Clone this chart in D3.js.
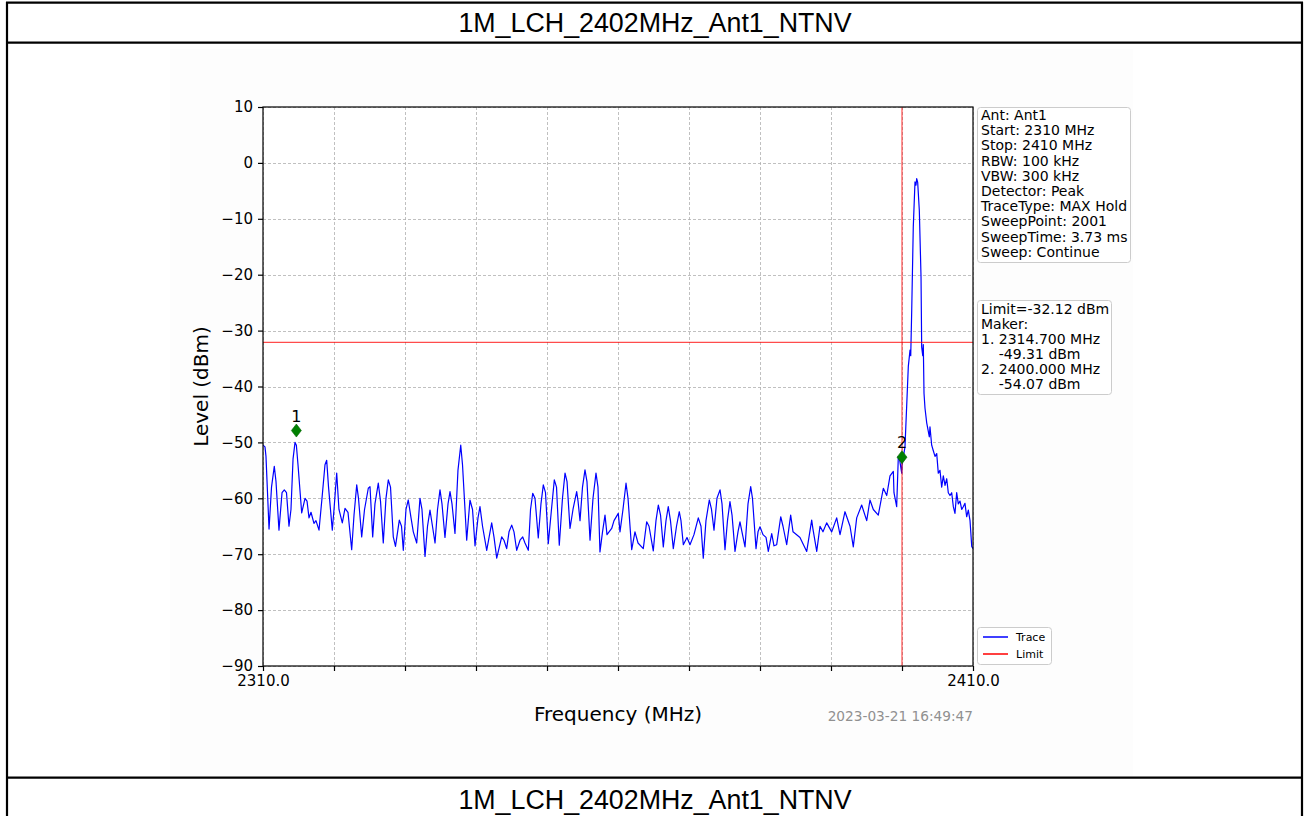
<!DOCTYPE html>
<html>
<head>
<meta charset="utf-8">
<script src="https://cdn.jsdelivr.net/npm/d3@7"></script>
<style>
  html, body { margin: 0; padding: 0; background: #ffffff; }
  svg { display: block; }
  text { white-space: pre; }
</style>
</head>
<body>
<svg id="chart" width="1308" height="816"></svg>
<script>
// ---------------- DATA ----------------
const chartTitle = "1M_LCH_2402MHz_Ant1_NTNV";
const xLabel = "Frequency (MHz)";
const yLabel = "Level (dBm)";
const timestamp = "2023-03-21 16:49:47";

const xTicks = [2310, 2320, 2330, 2340, 2350, 2360, 2370, 2380, 2390, 2400, 2410];
const xTickLabels = ["2310.0", "", "", "", "", "", "", "", "", "", "2410.0"];
const yTicks = [10, 0, -10, -20, -30, -40, -50, -60, -70, -80, -90];

const traceFreq = [
  2310.00, 2310.28, 2310.42, 2310.85, 2311.20, 2311.59, 2311.83, 2312.25, 2312.68, 2313.00,
  2313.31, 2313.66, 2313.94, 2314.23, 2314.51, 2314.70, 2314.93, 2315.45, 2315.92, 2316.20,
  2316.48, 2316.76, 2317.18, 2317.46, 2317.89, 2318.31, 2318.73, 2318.97, 2319.23, 2319.76,
  2320.00, 2320.38, 2320.70, 2321.17, 2321.55, 2321.97, 2322.49, 2322.82, 2323.20, 2323.45,
  2323.90, 2324.30, 2324.83, 2325.07, 2325.45, 2325.77, 2326.24, 2326.55, 2326.94, 2327.32,
  2327.65, 2327.96, 2328.35, 2328.66, 2329.20, 2329.51, 2329.76, 2330.14, 2330.46, 2330.85,
  2331.17, 2331.65, 2332.11, 2332.39, 2332.82, 2333.17, 2333.52, 2333.87, 2334.23, 2334.58,
  2334.93, 2335.21, 2335.63, 2336.06, 2336.34, 2336.62, 2337.04, 2337.46, 2337.85, 2338.10,
  2338.69, 2339.15, 2339.51, 2339.86, 2340.28, 2340.56, 2340.92, 2341.51, 2342.21, 2342.54,
  2342.92, 2343.62, 2343.94, 2344.32, 2344.65, 2345.03, 2345.35, 2345.73, 2346.20, 2346.58,
  2346.90, 2347.37, 2347.68, 2347.99, 2348.31, 2348.77, 2349.15, 2349.48, 2349.79, 2350.18,
  2350.63, 2351.03, 2351.34, 2351.73, 2352.18, 2352.54, 2352.82, 2353.24, 2353.66, 2354.18,
  2354.37, 2354.65, 2355.00, 2355.35, 2355.63, 2356.06, 2356.48, 2356.90, 2357.18, 2357.46,
  2357.82, 2358.17, 2358.45, 2359.11, 2359.44, 2360.04, 2360.28, 2360.70, 2361.13, 2361.41,
  2361.93, 2362.39, 2362.82, 2363.56, 2364.04, 2364.37, 2364.97, 2365.35, 2365.68, 2365.99,
  2366.38, 2366.76, 2367.08, 2367.39, 2367.79, 2368.24, 2368.63, 2368.87, 2369.20, 2369.72,
  2370.14, 2370.70, 2371.31, 2371.69, 2372.01, 2372.39, 2372.86, 2373.17, 2373.52, 2373.94,
  2374.37, 2374.65, 2375.07, 2375.42, 2375.77, 2376.06, 2376.48, 2376.90, 2377.18, 2377.46,
  2377.89, 2378.31, 2378.69, 2378.94, 2379.44, 2379.72, 2380.00, 2380.42, 2380.85, 2381.17,
  2381.65, 2381.97, 2382.35, 2382.92, 2383.24, 2383.76, 2384.32, 2384.65, 2385.63, 2386.58,
  2387.28, 2387.46, 2387.99, 2388.45, 2388.87, 2389.39, 2390.10, 2390.80, 2391.27, 2391.97,
  2392.68, 2393.14, 2393.62, 2394.32, 2395.03, 2395.49, 2395.96, 2396.66, 2397.37, 2397.85,
  2398.31, 2398.78, 2398.87, 2399.25, 2399.48, 2399.65, 2399.96, 2400.00, 2400.42, 2400.89,
  2401.13, 2401.23, 2401.37, 2401.59, 2401.83, 2401.97, 2402.07, 2402.21, 2402.44, 2402.68,
  2402.77, 2402.92, 2403.00, 2403.10, 2403.24, 2403.48, 2403.85, 2403.94, 2404.18, 2404.41,
  2404.65, 2404.89, 2405.11, 2405.35, 2405.59, 2405.82, 2406.06, 2406.30, 2406.52, 2406.76,
  2407.00, 2407.23, 2407.46, 2407.70, 2407.93, 2408.17, 2408.41, 2408.63, 2408.87, 2409.11,
  2409.34, 2409.58, 2409.82, 2410.00
];
const traceLevel = [
  -50.5, -50.8, -52.5, -65.5, -58.0, -54.3, -57.0, -65.7, -59.0, -58.5,
  -59.0, -65.0, -62.0, -53.0, -50.0, -50.5, -54.0, -62.6, -60.0, -60.5,
  -63.5, -62.5, -64.5, -64.0, -65.7, -60.0, -54.0, -53.2, -58.0, -65.7,
  -62.0, -55.5, -62.0, -64.4, -61.8, -62.5, -69.2, -63.0, -57.6, -60.0,
  -66.9, -62.0, -58.2, -57.9, -66.9, -61.0, -57.3, -60.5, -68.0, -60.0,
  -56.7, -58.0, -66.9, -68.6, -63.9, -65.0, -69.3, -62.0, -60.3, -63.5,
  -66.0, -68.0, -60.0, -62.0, -70.4, -65.0, -62.1, -65.0, -68.0, -62.0,
  -58.5, -61.0, -67.0, -61.0, -58.8, -61.0, -66.3, -55.0, -50.5, -54.0,
  -67.5, -60.3, -62.0, -68.5, -63.5, -61.5, -65.0, -69.3, -64.4, -67.0,
  -70.7, -66.9, -67.5, -69.0, -66.0, -64.8, -66.0, -69.3, -67.5, -66.9,
  -68.0, -69.3, -62.0, -59.1, -60.0, -67.1, -61.0, -57.6, -59.0, -68.1,
  -62.0, -56.7, -58.0, -68.4, -60.0, -55.5, -57.0, -65.4, -62.0, -58.8,
  -60.5, -64.0, -58.0, -54.9, -57.0, -67.5, -60.0, -55.5, -58.0, -69.6,
  -66.0, -63.0, -66.5, -65.4, -64.0, -62.7, -66.0, -62.0, -57.3, -60.0,
  -69.2, -66.0, -68.0, -69.0, -64.2, -65.0, -69.4, -64.0, -61.2, -63.0,
  -68.7, -64.0, -61.5, -64.0, -69.0, -65.0, -62.4, -64.0, -68.3, -67.0,
  -68.3, -66.5, -63.5, -65.0, -70.7, -64.0, -60.3, -62.0, -65.7, -60.0,
  -58.5, -61.0, -69.2, -64.0, -60.6, -63.0, -69.5, -66.0, -64.2, -66.0,
  -68.7, -61.0, -57.9, -60.0, -69.0, -66.0, -65.1, -66.5, -67.0, -69.5,
  -66.3, -68.5, -68.3, -63.3, -65.0, -68.3, -63.0, -66.0, -67.0, -69.5,
  -63.9, -65.5, -69.5, -65.0, -66.0, -64.4, -66.0, -63.5, -66.5, -62.4,
  -65.0, -68.7, -63.5, -61.2, -64.0, -60.3, -62.0, -63.0, -58.2, -59.5,
  -56.0, -55.2, -59.0, -61.5, -52.6, -53.0, -55.5, -54.07, -50.8, -36.4,
  -33.5, -34.5, -26.3, -11.4, -3.4, -4.0, -2.8, -3.5, -8.5, -20.4,
  -32.9, -34.5, -32.5, -41.2, -43.9, -46.5, -49.0, -47.2, -50.5, -51.5,
  -52.5, -52.0, -55.5, -55.0, -58.0, -56.0, -57.7, -56.5, -59.0, -59.5,
  -59.0, -61.5, -62.7, -59.0, -61.0, -60.5, -62.0, -61.5, -60.9, -63.3,
  -62.1, -64.0, -68.6, -69.0
];

const limitLevel = -32.12;
const markerFreq = [2314.7, 2400.0];
const markerLevel = [-49.31, -54.07];
const markerNames = ["1", "2"];

const infoLines = [
  "Ant: Ant1", "Start: 2310 MHz", "Stop: 2410 MHz", "RBW: 100 kHz", "VBW: 300 kHz",
  "Detector: Peak", "TraceType: MAX Hold", "SweepPoint: 2001", "SweepTime: 3.73 ms", "Sweep: Continue"
];
const limitLines = [
  "Limit=-32.12 dBm", "Maker:", "1. 2314.700 MHz", "    -49.31 dBm", "2. 2400.000 MHz", "    -54.07 dBm"
];
const legendNames = ["Trace", "Limit"];
const legendColors = ["#0000ff", "#ff0000"];

// ---------------- DRAW ----------------
const svg = d3.select("#chart");
const W = 1308, H = 816;
const mpl = "DejaVu Sans, Liberation Sans, sans-serif";
const arial = "Liberation Sans, Arial, sans-serif";

// outer table frame
const frame = svg.append("g").attr("stroke", "#000").attr("stroke-width", 2.2);
frame.append("line").attr("x1", 6).attr("x2", 1303).attr("y1", 2.7).attr("y2", 2.7);
frame.append("line").attr("x1", 7).attr("x2", 7).attr("y1", 2).attr("y2", H);
frame.append("line").attr("x1", 1302).attr("x2", 1302).attr("y1", 2).attr("y2", H);
frame.append("line").attr("x1", 6).attr("x2", 1303).attr("y1", 42.7).attr("y2", 42.7);
frame.append("line").attr("x1", 6).attr("x2", 1303).attr("y1", 777.7).attr("y2", 777.7);

svg.append("text").attr("x", 655).attr("y", 32).attr("text-anchor", "middle")
  .attr("font-family", arial).attr("font-size", 26.8).attr("fill", "#000").text(chartTitle);
svg.append("text").attr("x", 655).attr("y", 809).attr("text-anchor", "middle")
  .attr("font-family", arial).attr("font-size", 26.8).attr("fill", "#000").text(chartTitle);

// figure background (image area)
svg.append("rect").attr("x", 170).attr("y", 49).attr("width", 963).attr("height", 727).attr("fill", "#fdfdfd");

const m = { left: 263, right: 973, top: 107, bottom: 666 };
const x = d3.scaleLinear().domain([2310, 2410]).range([m.left, m.right]);
const y = d3.scaleLinear().domain([-90, 10]).range([m.bottom, m.top]);

// axes background
svg.append("rect").attr("x", m.left).attr("y", m.top)
  .attr("width", m.right - m.left).attr("height", m.bottom - m.top).attr("fill", "#ffffff");

// grid
const grid = svg.append("g").attr("stroke", "#b0b0b0").attr("stroke-width", 0.8)
  .attr("stroke-dasharray", "3,2");
grid.selectAll("line.v").data(xTicks).join("line")
  .attr("x1", d => Math.round(x(d)) + 0.5).attr("x2", d => Math.round(x(d)) + 0.5)
  .attr("y1", m.top).attr("y2", m.bottom);
grid.selectAll("line.h").data(yTicks).join("line")
  .attr("y1", d => Math.round(y(d)) + 0.5).attr("y2", d => Math.round(y(d)) + 0.5)
  .attr("x1", m.left).attr("x2", m.right);

// clip
svg.append("clipPath").attr("id", "clip").append("rect")
  .attr("x", m.left).attr("y", m.top).attr("width", m.right - m.left).attr("height", m.bottom - m.top);

const plot = svg.append("g").attr("clip-path", "url(#clip)");

// trace
const pts = traceFreq.map((f, i) => [f, traceLevel[i]]);
const line = d3.line().x(d => x(d[0])).y(d => y(d[1]));
plot.append("path").attr("d", line(pts)).attr("fill", "none")
  .attr("stroke", "#0000ff").attr("stroke-width", 1.2).attr("stroke-linejoin", "round");

// limit lines
plot.append("line").attr("x1", m.left).attr("x2", m.right)
  .attr("y1", y(limitLevel)).attr("y2", y(limitLevel))
  .attr("stroke", "#ff0000").attr("stroke-opacity", 0.7).attr("stroke-width", 1.2);
plot.append("line").attr("x1", x(markerFreq[1])).attr("x2", x(markerFreq[1]))
  .attr("y1", m.top).attr("y2", m.bottom)
  .attr("stroke", "#ff0000").attr("stroke-opacity", 0.7).attr("stroke-width", 1.2);

// markers
const mk = svg.append("g");
markerFreq.forEach((f, i) => {
  const cx = x(f), cy = y(markerLevel[i]) - 8;
  mk.append("path").attr("d", `M${cx},${cy - 6.5}L${cx + 5},${cy}L${cx},${cy + 6.5}L${cx - 5},${cy}Z`)
    .attr("fill", "#008000").attr("stroke", "#006400").attr("stroke-width", 0.6);
  mk.append("text").attr("x", cx).attr("y", cy - 9).attr("text-anchor", "middle")
    .attr("font-family", mpl).attr("font-size", 16).attr("fill", "#000").text(markerNames[i]);
});

// spines
svg.append("rect").attr("x", m.left).attr("y", m.top)
  .attr("width", m.right - m.left).attr("height", m.bottom - m.top)
  .attr("fill", "none").attr("stroke", "#000").attr("stroke-width", 1.2);

// x axis
const xAxis = d3.axisBottom(x).tickValues(xTicks).tickSize(5).tickPadding(4)
  .tickFormat((d, i) => xTickLabels[i]);
const gx = svg.append("g").attr("transform", `translate(0,${m.bottom})`).call(xAxis);
gx.select(".domain").remove();
gx.selectAll("line").attr("stroke", "#000").attr("stroke-width", 1.2);
gx.selectAll("text").attr("font-family", mpl).attr("font-size", 15).attr("fill", "#000");

// y axis
const yAxis = d3.axisLeft(y).tickValues(yTicks).tickSize(5).tickPadding(5)
  .tickFormat(d => d < 0 ? "\u2212" + Math.abs(d) : String(d));
const gy = svg.append("g").attr("transform", `translate(${m.left},0)`).call(yAxis);
gy.select(".domain").remove();
gy.selectAll("line").attr("stroke", "#000").attr("stroke-width", 1.2);
gy.selectAll("text").attr("font-family", mpl).attr("font-size", 15).attr("fill", "#000");

// axis labels
svg.append("text").attr("x", (m.left + m.right) / 2).attr("y", 721).attr("text-anchor", "middle")
  .attr("font-family", mpl).attr("font-size", 20).attr("fill", "#000").text(xLabel);
svg.append("text").attr("transform", `translate(208,${(m.top + m.bottom) / 2}) rotate(-90)`)
  .attr("text-anchor", "middle").attr("font-family", mpl).attr("font-size", 20).attr("fill", "#000").text(yLabel);

svg.append("text").attr("x", m.right).attr("y", 721).attr("text-anchor", "end")
  .attr("font-family", mpl).attr("font-size", 13.7).attr("fill", "#909090").text(timestamp);

// info box
function textBox(lines, bx, by, bw, bh, firstBaseline, spacing) {
  svg.append("rect").attr("x", bx).attr("y", by).attr("width", bw).attr("height", bh)
    .attr("rx", 3).attr("fill", "#ffffff").attr("stroke", "#cccccc").attr("stroke-width", 1);
  svg.append("g").selectAll("text").data(lines).join("text")
    .attr("x", bx + 3.5).attr("y", (d, i) => firstBaseline + i * spacing)
    .attr("font-family", mpl).attr("font-size", 14).attr("fill", "#000")
    .attr("xml:space", "preserve").text(d => d);
}
textBox(infoLines, 977.5, 107.5, 153, 155, 120, 15.2);
textBox(limitLines, 977.5, 300.5, 134, 94, 314, 15.0);

// legend
svg.append("rect").attr("x", 977.5).attr("y", 627.5).attr("width", 74).attr("height", 37)
  .attr("rx", 3).attr("fill", "#ffffff").attr("stroke", "#cccccc").attr("stroke-width", 1);
legendNames.forEach((n, i) => {
  const ly = 637 + i * 17;
  svg.append("line").attr("x1", 983).attr("x2", 1008).attr("y1", ly).attr("y2", ly)
    .attr("stroke", legendColors[i]).attr("stroke-width", 1.5);
  svg.append("text").attr("x", 1016).attr("y", ly + 4).attr("font-family", mpl)
    .attr("font-size", 11).attr("fill", "#000").text(n);
});
</script>
</body>
</html>
